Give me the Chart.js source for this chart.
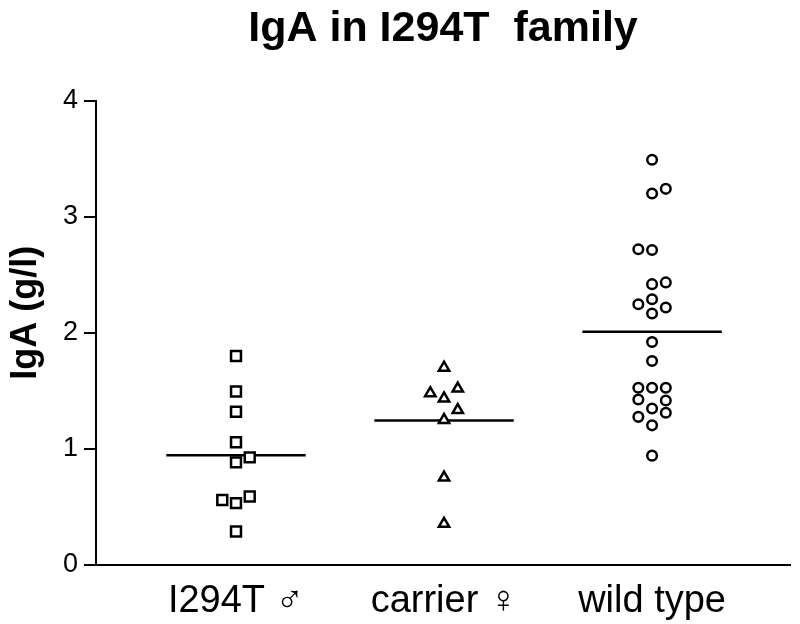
<!DOCTYPE html>
<html>
<head>
<meta charset="utf-8">
<script src="https://cdn.jsdelivr.net/npm/chart.js@4.4.0/dist/chart.umd.min.js"></script>
<style>
  body { margin: 0; background: #fff; }
</style>
</head>
<body>
<canvas id="myChart" width="800" height="624"></canvas>
<script>
// groups along the x axis
const categories = ['I294T \u2642', 'carrier \u2640', 'wild type'];

// IgA values (g/l) per group, with the dot-plot column each dot sits in (-1, 0, 1)
const mutantValues = [1.80, 1.495, 1.32, 1.057, 0.884, 0.927, 0.56, 0.533, 0.59, 0.288];
const mutantSlots  = [0, 0, 0, 0, 0, 1, -1, 0, 1, 0];

const carrierValues = [1.70, 1.48, 1.52, 1.435, 1.335, 1.25, 0.753, 0.355];
const carrierSlots  = [0, -1, 1, 0, 1, 0, 0, 0];

const wildValues = [3.49, 3.20, 3.24, 2.72, 2.713, 2.419, 2.434, 2.246, 2.289, 2.218, 2.166,
                    1.921, 1.757, 1.527, 1.527, 1.527, 1.425, 1.417, 1.348, 1.276, 1.311, 1.203, 0.942];
const wildSlots  = [0, 0, 1, -1, 0, 0, 1, -1, 0, 1, 0,
                    0, 0, -1, 0, 1, -1, 1, 0, -1, 1, 0, 0];

// horizontal line per group
const groupMeans = [0.945, 1.245, 2.01];

const yTicks = [0, 1, 2, 3, 4];

const slotGap = 0.066;
const meanHalf = 0.335;

function toPoints(values, slots, idx) {
    return values.map((v, i) => ({ x: idx + slots[i] * slotGap, y: v }));
}

const markerStyle = {
    backgroundColor: '#fff',
    borderColor: '#000',
    borderWidth: 2.5,
    showLine: false
};

const datasets = [
    Object.assign({ data: toPoints(mutantValues, mutantSlots, 0), pointStyle: 'rect', pointRadius: 7 }, markerStyle),
    Object.assign({ data: toPoints(carrierValues, carrierSlots, 1), pointStyle: 'triangle', pointRadius: 6 }, markerStyle),
    Object.assign({ data: toPoints(wildValues, wildSlots, 2), pointStyle: 'circle', pointRadius: 4.8 }, markerStyle)
];

groupMeans.forEach((m, i) => {
    datasets.push({
        data: [{ x: i - meanHalf, y: m }, { x: i + meanHalf, y: m }],
        showLine: true,
        borderColor: '#000',
        borderWidth: 2.5,
        pointRadius: 0
    });
});

const font = "'Liberation Sans', Arial, Helvetica, sans-serif";

new Chart(document.getElementById('myChart').getContext('2d'), {
    type: 'scatter',
    data: { datasets: datasets },
    options: {
        responsive: false,
        animation: false,
        layout: { padding: { left: 0, right: 10, top: 0, bottom: 0 } },
        plugins: {
            legend: { display: false },
            tooltip: { enabled: false },
            title: {
                display: true,
                text: 'IgA in I294T  family',
                fullSize: false,
                color: '#000',
                font: { family: font, size: 43, weight: 'bold' },
                padding: { top: 3, bottom: 46 }
            }
        },
        scales: {
            x: {
                type: 'linear',
                min: -0.673,
                max: 2.663,
                afterBuildTicks: function(scale) {
                    scale.ticks = categories.map((c, i) => ({ value: i }));
                },
                afterFit: function(scale) { scale.height = 59; },
                ticks: {
                    callback: function(v) { return categories[v]; },
                    color: '#000',
                    font: { family: font, size: 38 },
                    padding: 6,
                    maxRotation: 0,
                    autoSkip: false
                },
                grid: { display: false },
                border: { display: true, color: '#000', width: 2 }
            },
            y: {
                min: 0,
                max: 4,
                afterBuildTicks: function(scale) {
                    scale.ticks = yTicks.map(v => ({ value: v }));
                },
                afterFit: function(scale) { scale.width = 96; },
                ticks: {
                    color: '#000',
                    font: { family: font, size: 27 },
                    padding: 6
                },
                grid: {
                    drawOnChartArea: false,
                    drawTicks: true,
                    tickLength: 12,
                    color: '#000',
                    lineWidth: 2
                },
                border: { display: true, color: '#000', width: 2 },
                title: {
                    display: true,
                    text: '    IgA (g/l)',
                    color: '#000',
                    font: { family: font, size: 36, weight: 'bold' },
                    padding: { top: 4, bottom: 0 }
                }
            }
        }
    }
});
</script>
</body>
</html>
